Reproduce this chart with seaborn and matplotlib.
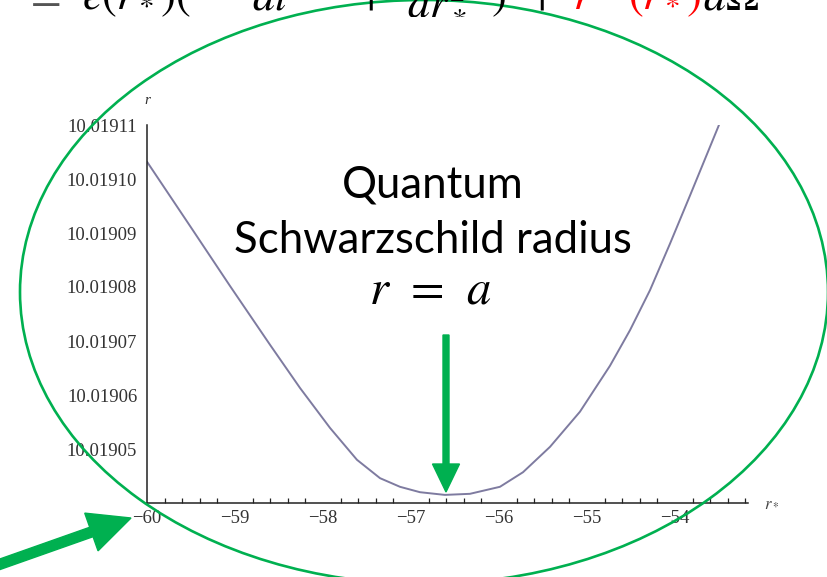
import numpy as np
import pandas as pd
import matplotlib
matplotlib.use("Agg")
import matplotlib.pyplot as plt
import seaborn as sns
from matplotlib.patches import Ellipse, FancyArrow
from matplotlib.ticker import MultipleLocator, FixedLocator, FormatStrFormatter

# r(r*) near the minimum
r_star = [-60.000, -59.511, -59.057, -58.602, -58.261, -57.920, -57.614,
          -57.352, -57.125, -56.898, -56.614, -56.330, -55.989, -55.727,
          -55.420, -55.080, -54.739, -54.511, -54.284, -54.057, -53.830,
          -53.500]
r_vals = [10.0191032, 10.0190913, 10.0190802, 10.0190693, 10.0190613,
          10.0190539, 10.0190480, 10.0190446, 10.0190430, 10.0190420,
          10.0190415, 10.0190417, 10.0190430, 10.0190457, 10.0190504,
          10.0190569, 10.0190654, 10.0190720, 10.0190794, 10.0190880,
          10.0190969, 10.0191100]

y_ticks = [10.01905, 10.01906, 10.01907, 10.01908, 10.01909, 10.01910, 10.01911]
x_ticks = [-60, -59, -58, -57, -56, -55, -54]

W, H = 827, 577
sns.set_theme(style="white")
plt.rcParams["mathtext.fontset"] = "stix"

fig = plt.figure(figsize=(W / 100, H / 100), dpi=100)
fig.patch.set_facecolor("white")

ax = fig.add_axes([147 / W, 1 - 503 / H, (748 - 147) / W, (503 - 125) / H])
df = pd.DataFrame({"r_star": r_star, "r": r_vals})
sns.lineplot(data=df, x="r_star", y="r", ax=ax, color="#7e7ba0", lw=1.4)

ax.set_xlim(-60, -53.17)
ax.set_ylim(10.01904, 10.01911)
ax.set_facecolor("none")
for s in ["top", "right"]:
    ax.spines[s].set_visible(False)
for s in ["left", "bottom"]:
    ax.spines[s].set_color("#222222")
    ax.spines[s].set_linewidth(1.1)

ax.xaxis.set_major_locator(FixedLocator(x_ticks))
ax.xaxis.set_minor_locator(MultipleLocator(0.2))
ax.yaxis.set_major_locator(FixedLocator(y_ticks))
ax.yaxis.set_major_formatter(FormatStrFormatter("%.5f"))
ax.tick_params(axis="both", which="major", direction="in", length=6, width=1.0,
               color="#222222", labelsize=13.5, labelcolor="#333333")
ax.tick_params(axis="x", which="minor", direction="in", length=3.5, width=0.9,
               color="#222222", bottom=True)
ax.tick_params(axis="y", pad=7)
ax.tick_params(axis="x", pad=5)
for lab in ax.get_xticklabels() + ax.get_yticklabels():
    lab.set_family("Liberation Serif")
ax.set_xlabel("")
ax.set_ylabel("")
ax.grid(False)

fig.text(147 / W, 1 - 104 / H, "r", family="Liberation Serif", style="italic",
         fontsize=11, color="#333333", ha="center", va="baseline")
fig.text(772 / W, 1 - 507 / H, r"$r_*$", fontsize=12, color="#444444",
         ha="center", va="baseline")

# equation fragment along the top edge
eq_y = 1 - 9 / H
eq_size = 32
def eq(x, s, color="black", ha="left"):
    fig.text(x / W, eq_y, s, fontsize=eq_size, color=color, ha=ha, va="baseline")

eq(24, r"$=$", color="#555555")
eq(82, r"$e(r_*)($")
eq(222, r"$-dt^2$")
eq(370, r"$+$", ha="center")
eq(407, r"$dr_*^2$")
eq(491, r"$)$")
eq(541, r"$+$", ha="center")
eq(573, r"$r^2$", color="red")
eq(628, r"$(r_*)$", color="red")
eq(703, r"$d\Omega^2$")

# annotation text
fig.text(433 / W, 1 - 198 / H, "Quantum", family="Lato", fontsize=31.5,
         color="black", ha="center", va="baseline")
fig.text(433 / W, 1 - 253 / H, "Schwarzschild radius", family="Lato",
         fontsize=31.5, color="black", ha="center", va="baseline")
fig.text(430 / W, 1 - 303 / H, r"$r\;\,=\;\,a$", fontsize=35, color="black",
         ha="center", va="baseline")

green = "#00b050"
ell = Ellipse((424 / W, 1 - 292 / H), 808 / W, 584 / H, transform=fig.transFigure,
              fill=False, edgecolor=green, lw=1.9)
fig.patches.append(ell)

def arrow(x0, y0, x1, y1, width, head_w, head_l):
    fx0, fy0 = x0, H - y0
    fx1, fy1 = x1, H - y1
    a = FancyArrow(fx0, fy0, fx1 - fx0, fy1 - fy0, width=width, head_width=head_w,
                   head_length=head_l, length_includes_head=True, color=green,
                   transform=None)
    fig.patches.append(a)

arrow(446, 335, 446, 492, 6, 27, 28)
arrow(-5, 566, 131, 518, 10, 40, 42)

fig.savefig("out.png", dpi=100, facecolor="white")
